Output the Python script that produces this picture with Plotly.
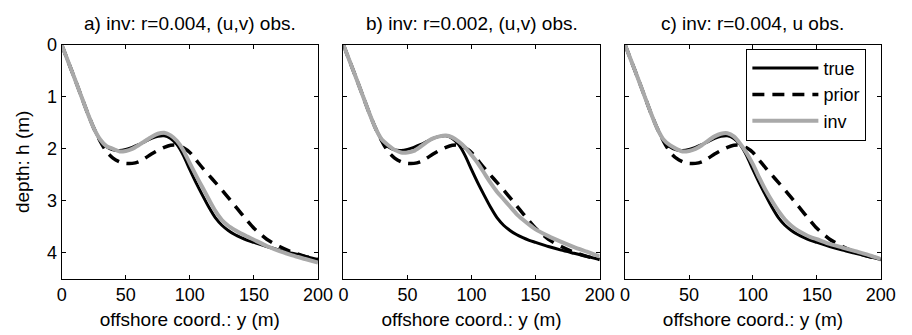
import plotly.graph_objects as go

# offshore coordinate (m)
y_coord = [0, 5, 10, 15, 20, 25, 30, 35, 40, 45, 50, 55, 60, 65, 70, 75, 80, 85, 90, 95,
           100, 105, 110, 115, 120, 125, 130, 135, 140, 145, 150, 160, 170, 180, 190, 200]

# depth h (m)
h_true = [0, 0.32, 0.64, 0.97, 1.30, 1.60, 1.83, 1.96, 2.02, 2.03, 2.01, 1.97, 1.92, 1.86, 1.80, 1.76,
          1.75, 1.80, 1.92, 2.13, 2.40, 2.66, 2.90, 3.13, 3.33, 3.47, 3.57, 3.65, 3.71, 3.76,
          3.80, 3.88, 3.95, 4.01, 4.07, 4.13]
h_prior = [0, 0.32, 0.64, 0.97, 1.30, 1.60, 1.85, 2.06, 2.18, 2.25, 2.28, 2.28, 2.25, 2.18, 2.10, 2.03,
           1.97, 1.93, 1.93, 1.98, 2.07, 2.22, 2.37, 2.51, 2.65, 2.79, 2.94, 3.09, 3.24, 3.39,
           3.53, 3.74, 3.88, 3.99, 4.07, 4.13]
h_inv_a = [0, 0.32, 0.64, 0.97, 1.30, 1.60, 1.82, 1.95, 2.00, 2.05, 2.04, 2.00, 1.93, 1.85, 1.77, 1.71,
           1.69, 1.74, 1.85, 2.03, 2.28, 2.52, 2.75, 2.98, 3.20, 3.37, 3.48, 3.56, 3.63, 3.69,
           3.75, 3.87, 3.97, 4.05, 4.12, 4.19]
h_inv_b = [0, 0.32, 0.64, 0.97, 1.30, 1.60, 1.82, 1.93, 2.02, 2.07, 2.07, 2.04, 1.96, 1.87, 1.80, 1.76,
           1.745, 1.78, 1.86, 1.97, 2.12, 2.28, 2.47, 2.66, 2.83, 2.97, 3.11, 3.25, 3.36, 3.46,
           3.55, 3.68, 3.79, 3.89, 3.98, 4.07]
h_inv_c = [0, 0.32, 0.64, 0.97, 1.30, 1.60, 1.82, 1.93, 2.00, 2.05, 2.04, 2.00, 1.93, 1.84, 1.76, 1.71,
           1.70, 1.76, 1.90, 2.08, 2.30, 2.56, 2.80, 3.01, 3.20, 3.36, 3.48, 3.57, 3.64, 3.70,
           3.74, 3.83, 3.90, 3.97, 4.04, 4.12]

titles = ["a) inv: r=0.004, (u,v) obs.", "b) inv: r=0.002, (u,v) obs.", "c) inv: r=0.004, u obs."]
inv_series = [h_inv_a, h_inv_b, h_inv_c]
x_ticks = [0, 50, 100, 150, 200]
y_ticks = [0, 1, 2, 3, 4]

W, H = 912, 335
x_domains = [(58 / W, 320 / W), (346 / W, 608 / W), (634 / W, 895.5 / W)]
y_domain = (1 - 277 / H, 1 - 36 / H)

FONT = "Liberation Sans, Arial, Helvetica, sans-serif"
fig = go.Figure()

for i in range(3):
    xa = "x" if i == 0 else f"x{i+1}"
    ya = "y" if i == 0 else f"y{i+1}"
    show = (i == 2)
    fig.add_trace(go.Scatter(x=y_coord, y=h_true, mode="lines", name="true",
                             line=dict(color="black", width=3, shape="spline", smoothing=0.6),
                             xaxis=xa, yaxis=ya, showlegend=show))
    fig.add_trace(go.Scatter(x=y_coord, y=h_prior, mode="lines", name="prior",
                             line=dict(color="black", width=3.5, dash="12px,8px", shape="spline", smoothing=0.6),
                             xaxis=xa, yaxis=ya, showlegend=show))
    fig.add_trace(go.Scatter(x=y_coord, y=inv_series[i], mode="lines", name="inv",
                             line=dict(color="#a9a9a9", width=4, shape="spline", smoothing=0.6),
                             xaxis=xa, yaxis=ya, showlegend=show))

axis_common = dict(showline=True, mirror="ticks", linecolor="black", linewidth=1,
                   ticks="inside", ticklen=4, tickcolor="black", showgrid=False, zeroline=False,
                   tickfont=dict(family=FONT, size=18, color="black"))

layout = dict(
    width=W, height=H, margin=dict(l=0, r=0, t=0, b=0),
    paper_bgcolor="white", plot_bgcolor="white",
    font=dict(family=FONT, size=19, color="black"),
    legend=dict(x=758 / W, y=1 - 40 / H, xanchor="left", yanchor="top",
                bgcolor="white", bordercolor="black", borderwidth=1,
                font=dict(family=FONT, size=18, color="black"),
                itemwidth=66, tracegroupgap=0),
    annotations=[],
)

for i in range(3):
    xk = "xaxis" if i == 0 else f"xaxis{i+1}"
    yk = "yaxis" if i == 0 else f"yaxis{i+1}"
    ya_ref = "y" if i == 0 else f"y{i+1}"
    xa_ref = "x" if i == 0 else f"x{i+1}"
    layout[xk] = dict(axis_common, domain=list(x_domains[i]), range=[0, 200],
                      tickvals=x_ticks, anchor=ya_ref,
                      title=dict(text="offshore coord.: y (m)", standoff=8,
                                 font=dict(family=FONT, size=19, color="black")))
    layout[yk] = dict(axis_common, domain=list(y_domain), range=[4.5, 0],
                      tickvals=y_ticks, anchor=xa_ref, showticklabels=(i == 0))
    if i == 0:
        layout[yk]["title"] = dict(text="depth: h (m)", standoff=12,
                                   font=dict(family=FONT, size=19, color="black"))
    layout["annotations"].append(dict(
        text=titles[i], xref="paper", yref="paper",
        x=(x_domains[i][0] + x_domains[i][1]) / 2, y=1 - 14 / H,
        xanchor="center", yanchor="middle", showarrow=False,
        font=dict(family=FONT, size=19, color="black")))

fig.update_layout(**layout)
fig.write_html("out.html")
